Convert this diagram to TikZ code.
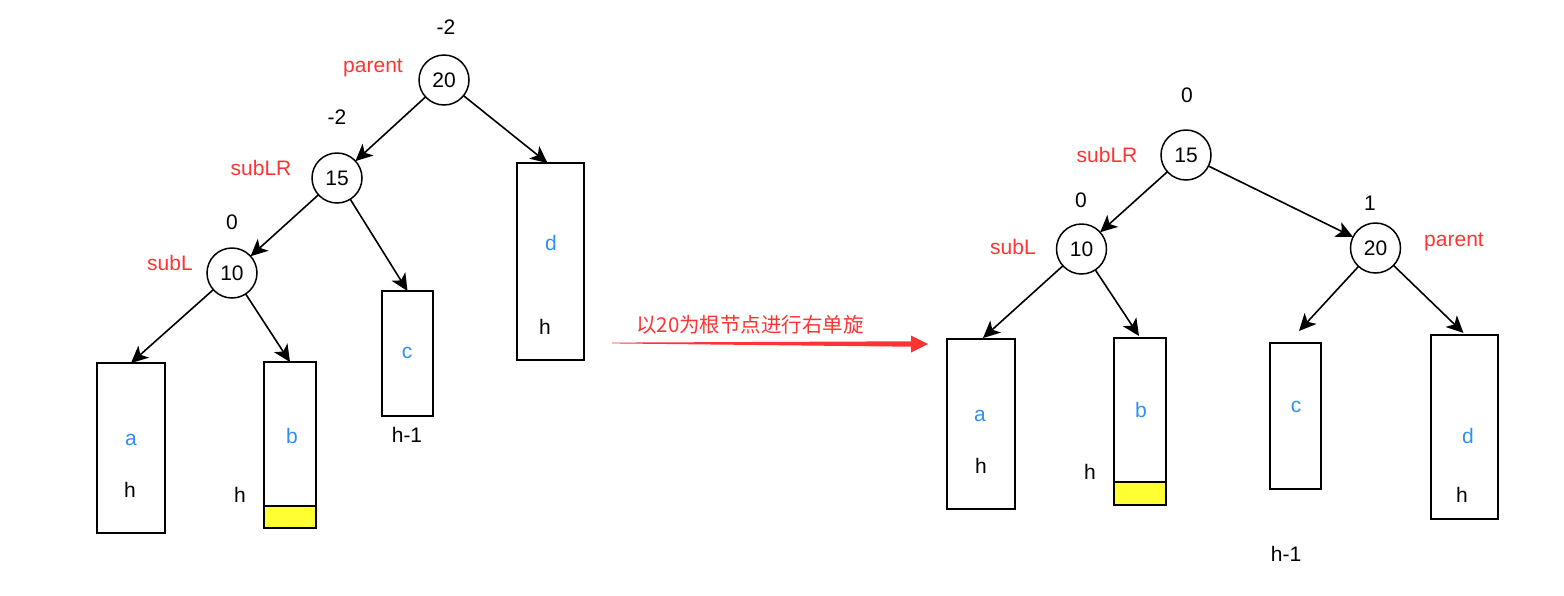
\documentclass[tikz,border=0pt]{standalone}
\usepackage{fontspec}
\setmainfont{Liberation Sans}
\newfontfamily\cjk{Noto Sans CJK SC}
\usetikzlibrary{arrows.meta,calc}
\definecolor{lblred}{HTML}{FF3333}
\definecolor{lblblue}{HTML}{2E8FF5}
\definecolor{hyellow}{HTML}{FFFF33}
\begin{document}
\begin{tikzpicture}[x=1pt,y=-1pt,
  every node/.style={outer sep=0pt,font=\fontsize{21}{24}\selectfont},
  tnode/.style={circle,draw,line width=1.5pt,minimum size=50pt,inner sep=0pt},
  tbox/.style={rectangle,draw,line width=1.8pt,inner sep=0pt},
  ybox/.style={rectangle,draw,line width=1.8pt,fill=hyellow,inner sep=0pt,anchor=south},
  red/.style={text=lblred},
  blue/.style={text=lblblue},
  conn/.style={line width=1.6pt,-{Stealth[length=17pt,width=16pt,inset=4.5pt]}}
]
\useasboundingbox (0,0) rectangle (1564,595);

% ---------- left tree ----------
\node[tnode] (L20) at (444,80) {20};
\node[tnode] (L15) at (337,178) {15};
\node[tnode] (L10) at (232,273) {10};
\node (Lbf20) at (446,27) {-2};
\node[red] (Lp) at (373,68) {parent};
\node (Lbf15) at (337,117) {-2};
\node[red] (Lslr) at (261,168) {subLR};
\node (Lbf10) at (232,222) {0};
\node[red] (Lsl) at (170,263) {subL};

\node[tbox,minimum width=68pt,minimum height=170pt] (La) at (131,448) {};
\node[blue] (Lat) at (131,440) {a};
\node (Lah) at (130,490) {h};

\node[tbox,minimum width=52pt,minimum height=166pt] (Lb) at (290,445) {};
\node[ybox,minimum width=52pt,minimum height=22pt] (Lby) at (Lb.south) {};
\node[blue] (Lbt) at (292,436) {b};
\node (Lbh) at (240,495) {h};

\node[tbox,minimum width=51pt,minimum height=125pt] (Lc) at (407.5,353.5) {};
\node[blue] (Lct) at (407,353) {c};
\node (Lch) at (407,435) {h-1};

\node[tbox,minimum width=67pt,minimum height=197pt] (Ld) at (550.5,261.5) {};
\node[blue] (Ldt) at (551,243) {d};
\node (Ldh) at (545,327) {h};

\coordinate (Ldtop) at ($(Ld.north)+(-3,0)$);
\draw[conn] (L20) -- (L15);
\draw[conn] (L20) -- (Ldtop);
\draw[conn] (L15) -- (L10);
\draw[conn] (L15) -- (Lc.north);
\draw[conn] (L10) -- (La.north);
\draw[conn] (L10) -- (Lb.north);

% ---------- middle arrow ----------
\node[red,font=\cjk\fontsize{20.5}{24}\selectfont] (lbl) at (750,325) {以20为根节点进行右单旋};
\coordinate (ms) at (612,343);
\coordinate (me) at (928,344);
\fill[lblred] (612,342.6) -- (911,341.3) -- (911,335.5) -- (928,344) -- (911,352.5) -- (911,346.7) -- (612,343.4) -- cycle;

% ---------- right tree ----------
\node[tnode] (R15) at (1186,155) {15};
\node[tnode] (R10) at (1081.5,249) {10};
\node[tnode] (R20) at (1375.5,248) {20};
\node (Rbf15) at (1187,95) {0};
\node[red] (Rslr) at (1107,155) {subLR};
\node (Rbf10) at (1081,200) {0};
\node[red] (Rsl) at (1013,247) {subL};
\node (Rbf20) at (1370,203) {1};
\node[red] (Rp) at (1454,242) {parent};

\node[tbox,minimum width=68pt,minimum height=170pt] (Ra) at (981,424) {};
\node[blue] (Rat) at (980,416) {a};
\node (Rah) at (981,466) {h};

\node[tbox,minimum width=52pt,minimum height=167pt] (Rb) at (1140,421.5) {};
\node[ybox,minimum width=52pt,minimum height=23pt] (Rby) at (Rb.south) {};
\node[blue] (Rbt) at (1141,410) {b};
\node (Rbh) at (1090,472) {h};

\node[tbox,minimum width=51pt,minimum height=146pt] (Rc) at (1295.5,416) {};
\node[blue] (Rct) at (1296,407) {c};
\node (Rch) at (1286,554) {h-1};

\node[tbox,minimum width=67pt,minimum height=184pt] (Rd) at (1464.5,427) {};
\node[blue] (Rdt) at (1468,436) {d};
\node (Rdh) at (1462,495) {h};

\coordinate (Rctip) at (1299,331);
\draw[conn] (R15) -- (R10);
\draw[conn] (R15) -- (R20);
\draw[conn] (R10) -- ($(Ra.north)+(2,-1)$);
\draw[conn] (R10) -- ($(Rb.north)+(-1,-2)$);
\draw[conn] (R20) -- (Rctip);
\draw[conn] (R20) -- ($(Rd.north)+(-1,-2)$);
\end{tikzpicture}
\end{document}
